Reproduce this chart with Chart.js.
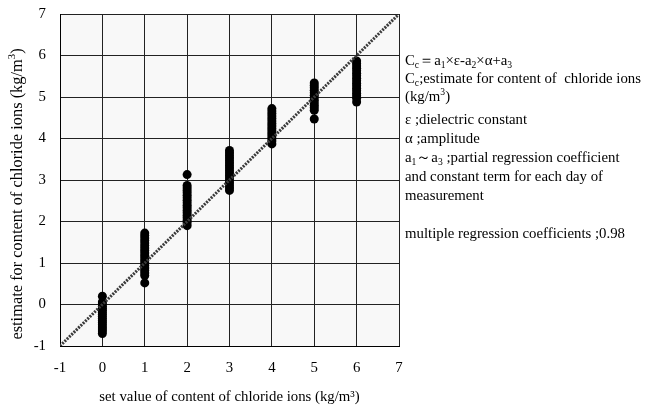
<!DOCTYPE html>
<html>
<head>
<meta charset="utf-8">
<script src="https://cdn.jsdelivr.net/npm/chart.js@4"></script>
<style>
  html, body { margin: 0; padding: 0; background: #fff; }
  canvas { display: block; }
</style>
</head>
<body>
<canvas id="chloride_chart" width="648" height="410"></canvas>
<script>
// set values of chloride content (kg/m3)
const setValues = [0, 1, 2, 3, 4, 5, 6];

// estimated content for each set value
const est0 = [0.2, 0.06, 0.01, -0.04, -0.09, -0.14, -0.19, -0.24, -0.29, -0.34, -0.39, -0.44, -0.49, -0.54, -0.59, -0.64, -0.7];
const est1 = [1.72, 1.66, 1.6, 1.54, 1.48, 1.42, 1.36, 1.3, 1.24, 1.18, 1.12, 1.06, 1.0, 0.94, 0.88, 0.82, 0.76, 0.7, 0.52];
const est2 = [3.13, 2.87, 2.81, 2.75, 2.69, 2.63, 2.57, 2.51, 2.45, 2.39, 2.33, 2.27, 2.21, 2.15, 2.09, 2.03, 1.97, 1.9];
const est3 = [3.71, 3.65, 3.59, 3.53, 3.47, 3.41, 3.35, 3.29, 3.23, 3.17, 3.11, 3.05, 2.99, 2.93, 2.87, 2.81, 2.75];
const est4 = [4.72, 4.66, 4.6, 4.54, 4.48, 4.42, 4.36, 4.3, 4.24, 4.18, 4.12, 4.06, 4.0, 3.94, 3.87];
const est5 = [5.34, 5.28, 5.22, 5.16, 5.1, 5.04, 4.98, 4.92, 4.86, 4.8, 4.74, 4.68, 4.47];
const est6 = [5.87, 5.81, 5.75, 5.69, 5.63, 5.57, 5.51, 5.45, 5.39, 5.33, 5.27, 5.21, 5.15, 5.09, 5.03, 4.97, 4.88];
const estimates = [est0, est1, est2, est3, est4, est5, est6];

// 1:1 line
const lineEnds = [-1, 7];

// axis range and ticks
const axisMin = -1;
const axisMax = 7;
const tickStep = 1;

const xTitle = 'set value of content of chloride ions (kg/m³)';
const yTitle = 'estimate for content of chloride ions (kg/m^{3})';

// notes on the right side; _{} subscript, ^{} superscript
const notes = [
  'C_{c}＝a_{1}×ε-a_{2}×α+a_{3}',
  'C_{c};estimate for content of  chloride ions',
  '(kg/m^{3})',
  'ε ;dielectric constant',
  'α ;amplitude',
  'a_{1}～a_{3} ;partial regression coefficient',
  'and constant term for each day of',
  'measurement',
  'multiple regression coefficients ;0.98'
];
const noteBaselines = [65, 83, 101, 124, 143, 162, 181, 200, 238];

const serif = '"Liberation Serif", "Times New Roman", serif';
const fontSize = 14.8;

const points = [];
setValues.forEach((sv, i) => {
  estimates[i].forEach(v => points.push({ x: sv, y: v }));
});

// split "text_{sub}^{sup}" into runs with size and vertical shift
function richRuns(str, size) {
  return str.split(/(_\{[^}]*\}|\^\{[^}]*\})/).filter(p => p).map(p => {
    if (p.startsWith('_{')) return { text: p.slice(2, -1), size: size * 0.65, dy: size * 0.22 };
    if (p.startsWith('^{')) return { text: p.slice(2, -1), size: size * 0.65, dy: -size * 0.42 };
    return { text: p, size: size, dy: 0 };
  });
}

function richWidth(ctx, str, size) {
  let w = 0;
  richRuns(str, size).forEach(r => {
    ctx.font = r.size + 'px ' + serif;
    w += ctx.measureText(r.text).width;
  });
  return w;
}

function drawRich(ctx, str, x, y, size) {
  richRuns(str, size).forEach(r => {
    ctx.font = r.size + 'px ' + serif;
    ctx.fillText(r.text, x, y + r.dy);
    x += ctx.measureText(r.text).width;
  });
}

const plotBackground = {
  id: 'plotBackground',
  beforeDraw(chart) {
    const { ctx, chartArea } = chart;
    ctx.save();
    ctx.fillStyle = '#f8f8f8';
    ctx.fillRect(chartArea.left, chartArea.top, chartArea.right - chartArea.left, chartArea.bottom - chartArea.top);
    ctx.restore();
  }
};

const sideNotes = {
  id: 'sideNotes',
  afterDraw(chart) {
    const ctx = chart.ctx;
    ctx.save();
    ctx.fillStyle = '#000';
    ctx.textBaseline = 'alphabetic';
    ctx.textAlign = 'left';
    notes.forEach((line, i) => drawRich(ctx, line, 405, noteBaselines[i], fontSize));

    // vertical axis title, rotated
    const ySize = 16.4;
    const w = richWidth(ctx, yTitle, ySize);
    ctx.translate(21.5, 194);
    ctx.rotate(-Math.PI / 2);
    drawRich(ctx, yTitle, -w / 2, 0, ySize);
    ctx.restore();
  }
};

window.onload = function () {
  let context = document.querySelector('#chloride_chart').getContext('2d');
  new Chart(context, {
    type: 'scatter',
    data: {
      datasets: [{
        type: 'line',
        label: '1:1',
        data: lineEnds.map(v => ({ x: v, y: v })),
        borderColor: '#3a3a3a',
        borderWidth: 3,
        borderDash: [2, 1.2],
        pointRadius: 0,
        fill: false,
        order: 0
      }, {
        label: 'estimate',
        data: points,
        backgroundColor: '#000',
        borderColor: '#000',
        borderWidth: 0,
        pointRadius: 4.5,
        order: 1
      }]
    },
    options: {
      responsive: false,
      animation: false,
      devicePixelRatio: 1,
      layout: { padding: { top: 14, right: 249, left: 0, bottom: 0 } },
      plugins: {
        legend: { display: false },
        tooltip: { enabled: false }
      },
      scales: {
        x: {
          type: 'linear',
          min: axisMin,
          max: axisMax,
          afterFit: s => { s.height = 64; s.paddingLeft = 0; s.paddingRight = 0; },
          ticks: { stepSize: tickStep, color: '#000', padding: 13, font: { family: serif, size: fontSize } },
          grid: { color: '#222', drawTicks: false },
          border: { color: '#000', width: 1 },
          title: { display: true, text: xTitle, color: '#000', padding: 4, font: { family: serif, size: fontSize } }
        },
        y: {
          type: 'linear',
          min: axisMin,
          max: axisMax,
          afterFit: s => { s.width = 60; s.paddingTop = 0; s.paddingBottom = 0; },
          ticks: { stepSize: tickStep, color: '#000', padding: 14, font: { family: serif, size: fontSize } },
          grid: { color: '#222', drawTicks: false },
          border: { color: '#000', width: 1 },
          title: { display: false }
        }
      }
    },
    plugins: [plotBackground, sideNotes]
  });
};
</script>
</body>
</html>
